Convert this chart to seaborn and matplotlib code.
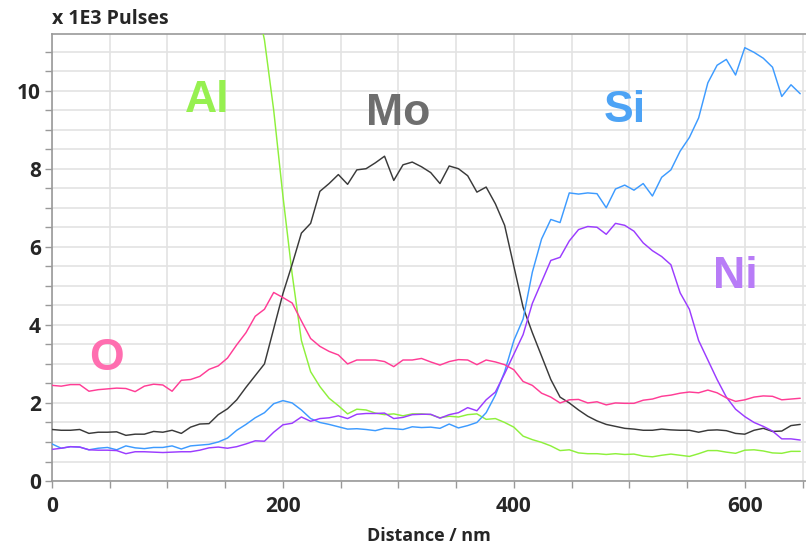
import numpy as np
import pandas as pd
import matplotlib
matplotlib.use('Agg')
import matplotlib.pyplot as plt
from matplotlib.ticker import MultipleLocator
import seaborn as sns

# Tiefe in nm (gemeinsame x-Achse)
distance = list(range(0, 656, 8))

al = [48, 46, 44, 42, 40, 38, 36, 34, 32, 30, 28.5, 27, 25.5, 24, 22.5, 21, 19.5, 18.2, 17, 15.8,
      14.6, 13.5, 12.4, 11.3, 9.5, 7.3, 5.3, 3.6, 2.8, 2.42, 2.12, 1.93, 1.72, 1.84, 1.82, 1.74, 1.7,
      1.72, 1.67, 1.72, 1.72, 1.7, 1.62, 1.66, 1.64, 1.7, 1.72, 1.58, 1.6, 1.5, 1.38, 1.15, 1.06,
      0.99, 0.9, 0.78, 0.8, 0.72, 0.7, 0.7, 0.68, 0.7, 0.68, 0.69, 0.64, 0.62, 0.66, 0.69, 0.66,
      0.63, 0.7, 0.78, 0.78, 0.74, 0.71, 0.79, 0.8, 0.77, 0.72, 0.71, 0.76, 0.76]

mo = [1.32, 1.3, 1.3, 1.32, 1.22, 1.25, 1.25, 1.26, 1.17, 1.2, 1.2, 1.27, 1.25, 1.3, 1.22, 1.38,
      1.46, 1.47, 1.7, 1.85, 2.08, 2.4, 2.7, 3.0, 3.9, 4.8, 5.55, 6.35, 6.6, 7.42, 7.62, 7.85, 7.6,
      7.97, 8.0, 8.15, 8.32, 7.7, 8.1, 8.17, 8.05, 7.9, 7.62, 8.07, 8.0, 7.82, 7.4, 7.53, 7.1, 6.55,
      5.5, 4.45, 3.8, 3.2, 2.6, 2.15, 2.0, 1.82, 1.66, 1.54, 1.45, 1.4, 1.35, 1.33, 1.3, 1.3, 1.33,
      1.31, 1.3, 1.3, 1.25, 1.3, 1.31, 1.29, 1.22, 1.2, 1.3, 1.35, 1.27, 1.28, 1.42, 1.45]

si = [0.95, 0.84, 0.88, 0.87, 0.8, 0.84, 0.86, 0.8, 0.9, 0.85, 0.83, 0.86, 0.86, 0.9, 0.82, 0.9,
      0.92, 0.94, 1.0, 1.1, 1.3, 1.45, 1.62, 1.75, 1.98, 2.06, 2.0, 1.82, 1.6, 1.5, 1.45, 1.39, 1.33,
      1.34, 1.32, 1.29, 1.35, 1.34, 1.32, 1.39, 1.37, 1.38, 1.35, 1.46, 1.36, 1.42, 1.5, 1.75, 2.2,
      2.8, 3.6, 4.15, 5.35, 6.2, 6.7, 6.62, 7.38, 7.35, 7.38, 7.36, 7.0, 7.48, 7.58, 7.45, 7.62, 7.3,
      7.78, 7.97, 8.45, 8.8, 9.3, 10.2, 10.65, 10.8, 10.4, 11.1, 10.98, 10.83, 10.6, 9.85, 10.15, 9.92]

ni = [0.81, 0.84, 0.88, 0.87, 0.8, 0.79, 0.79, 0.78, 0.7, 0.75, 0.75, 0.74, 0.73, 0.74, 0.75, 0.75,
      0.79, 0.85, 0.87, 0.84, 0.88, 0.95, 1.03, 1.02, 1.25, 1.44, 1.48, 1.64, 1.53, 1.6, 1.62, 1.67,
      1.6, 1.71, 1.73, 1.73, 1.74, 1.6, 1.63, 1.7, 1.71, 1.71, 1.61, 1.7, 1.75, 1.88, 1.8, 2.08,
      2.28, 2.75, 3.25, 3.75, 4.55, 5.1, 5.65, 5.73, 6.15, 6.44, 6.52, 6.5, 6.32, 6.6, 6.55, 6.4,
      6.1, 5.9, 5.75, 5.54, 4.82, 4.4, 3.6, 3.1, 2.6, 2.15, 1.84, 1.65, 1.5, 1.4, 1.28, 1.08, 1.08, 1.05]

o = [2.45, 2.43, 2.47, 2.47, 2.3, 2.34, 2.36, 2.38, 2.37, 2.29, 2.43, 2.48, 2.46, 2.3, 2.58, 2.6,
     2.68, 2.86, 2.95, 3.15, 3.49, 3.8, 4.22, 4.4, 4.83, 4.7, 4.56, 4.1, 3.65, 3.45, 3.32, 3.23, 3.0,
     3.1, 3.1, 3.1, 3.06, 2.93, 3.1, 3.1, 3.14, 3.05, 2.97, 3.06, 3.11, 3.1, 2.98, 3.1, 3.05, 2.98,
     2.85, 2.55, 2.45, 2.25, 2.15, 2.0, 2.08, 2.09, 2.0, 2.03, 1.95, 2.0, 1.99, 1.99, 2.07, 2.1, 2.17,
     2.2, 2.25, 2.28, 2.26, 2.33, 2.26, 2.13, 2.04, 2.08, 2.15, 2.18, 2.17, 2.08, 2.1, 2.12]

elements = ['Al', 'Mo', 'Si', 'Ni', 'O']
line_colors = {'Al': '#8ef03c', 'Mo': '#3a3a3a', 'Si': '#3d9bff', 'Ni': '#9b3cff', 'O': '#ff3d96'}
label_colors = {'Al': '#96f050', 'Mo': '#6e6e6e', 'Si': '#4da3f5', 'Ni': '#b87cf7', 'O': '#ff6eb0'}
label_pos = {'Al': (134, 9.46), 'Mo': (300, 9.13), 'Si': (496, 9.2), 'Ni': (592, 4.95), 'O': (47, 2.85)}

df = pd.DataFrame({'Distance': distance * 5,
                   'Pulses': al + mo + si + ni + o,
                   'Element': sum([[e] * len(distance) for e in elements], [])})

sns.set_style('white')
plt.rcParams['font.family'] = ['Open Sans', 'DejaVu Sans']

fig = plt.figure(figsize=(8.06, 5.46), dpi=100)
ax = fig.add_axes([0.0645, 0.119, 0.9355, 0.8187])

sns.lineplot(data=df, x='Distance', y='Pulses', hue='Element', palette=line_colors,
             linewidth=1.05, legend=False, ax=ax, zorder=3)

ax.set_xlim(0, 653)
ax.set_ylim(0, 11.45)
ax.xaxis.set_major_locator(MultipleLocator(200))
ax.xaxis.set_minor_locator(MultipleLocator(50))
ax.yaxis.set_major_locator(MultipleLocator(2))
ax.yaxis.set_minor_locator(MultipleLocator(0.5))
ax.grid(which='both', color='#e3e3e3', linewidth=1.2, zorder=0)
ax.set_axisbelow(True)
ax.tick_params(which='both', direction='out', length=5, width=1, color='#999999',
               left=True, bottom=True)
ax.tick_params(axis='x', labelsize=15, pad=6)
ax.tick_params(axis='y', labelsize=15, pad=3)
for lab in ax.get_xticklabels() + ax.get_yticklabels():
    lab.set_fontweight('bold')

for side in ['left', 'bottom', 'top']:
    ax.spines[side].set_color('#999999')
    ax.spines[side].set_linewidth(1.2)
ax.spines['right'].set_visible(False)

ax.set_xlabel('Distance / nm', fontsize=13, fontweight='bold', labelpad=7)
ax.set_ylabel('')
fig.text(0.0645, 0.966, 'x 1E3 Pulses', fontsize=14, fontweight='bold', va='center', ha='left')

for e in elements:
    ax.text(label_pos[e][0], label_pos[e][1], e, color=label_colors[e], fontsize=32,
            fontweight='bold', family='Liberation Sans', ha='center', va='baseline', zorder=4)

fig.savefig('out.png', dpi=100)
